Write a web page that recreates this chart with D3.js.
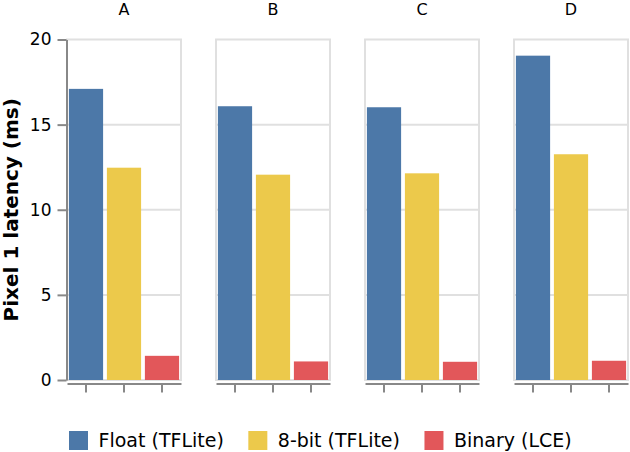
<!DOCTYPE html>
<html lang="en">
<head>
<meta charset="UTF-8">
<title>Pixel 1 latency</title>
<script src="https://d3js.org/d3.v7.min.js"></script>
<style>
  body { margin: 0; background: #fff; }
  text { font-family: "DejaVu Sans", sans-serif; fill: #000; }
  .grid line { stroke: #e0e0e0; stroke-width: 2; }
  .frame { fill: none; stroke: #e0e0e0; stroke-width: 2; }
  .axis path, .axis line { stroke: #888; stroke-width: 2; }
</style>
</head>
<body>
<script>
// data
var groups = ["A", "B", "C", "D"];
var series = ["Float (TFLite)", "8-bit (TFLite)", "Binary (LCE)"];
var floatVals = [17.1, 16.08, 16.02, 19.05];
var int8Vals = [12.47, 12.06, 12.14, 13.26];
var binaryVals = [1.42, 1.09, 1.07, 1.13];
var yTicks = [0, 5, 10, 15, 20];
var colors = ["#4c78a8", "#ecc94b", "#e2575a"];

var W = 630, H = 452;
var plotTop = 39.5, plotBottom = 380;

var svg = d3.select("body").append("svg")
  .attr("width", W)
  .attr("height", H);

var rows = [];
groups.forEach(function (g, i) {
  rows.push({group: g, s: series[0], v: floatVals[i]});
  rows.push({group: g, s: series[1], v: int8Vals[i]});
  rows.push({group: g, s: series[2], v: binaryVals[i]});
});

// scales
var fx = d3.scaleBand().domain(groups).range([67, 628]).paddingInner(0.235);
var x = d3.scaleBand().domain(series).range([0, fx.bandwidth()])
  .paddingInner(0.1).paddingOuter(0.05);
var y = d3.scaleLinear().domain([0, 20]).range([plotBottom, plotTop]);
var color = d3.scaleOrdinal().domain(series).range(colors);

var panel = svg.selectAll(".panel")
  .data(groups)
  .enter().append("g")
  .attr("class", "panel")
  .attr("transform", function (d) { return "translate(" + fx(d) + ",0)"; });

// gridlines
panel.append("g")
  .attr("class", "grid")
  .selectAll("line")
  .data(yTicks.slice(1, -1))
  .enter().append("line")
  .attr("x1", 0).attr("x2", fx.bandwidth())
  .attr("y1", function (d) { return y(d); })
  .attr("y2", function (d) { return y(d); });

panel.append("rect")
  .attr("class", "frame")
  .attr("x", 0).attr("y", plotTop)
  .attr("width", fx.bandwidth())
  .attr("height", plotBottom - plotTop);

// column titles
panel.append("text")
  .attr("x", fx.bandwidth() / 2)
  .attr("y", 14.5)
  .attr("text-anchor", "middle")
  .style("font-size", "16px")
  .text(function (d) { return d; });

// bars
panel.selectAll(".bar")
  .data(function (g) { return rows.filter(function (r) { return r.group === g; }); })
  .enter().append("rect")
  .attr("class", "bar")
  .attr("x", function (d) { return x(d.s); })
  .attr("width", x.bandwidth())
  .attr("y", function (d) { return y(d.v); })
  .attr("height", function (d) { return plotBottom - y(d.v); })
  .attr("fill", function (d) { return color(d.s); });

// x axis (no labels)
panel.append("g")
  .attr("class", "axis")
  .attr("transform", "translate(0," + (plotBottom + 3.5) + ")")
  .call(d3.axisBottom(x).tickSize(9).tickSizeOuter(0).tickFormat(""));

// y axis on first panel only
var yAxis = svg.append("g")
  .attr("class", "axis")
  .attr("transform", "translate(66.5,0)")
  .call(d3.axisLeft(y).tickValues(yTicks).tickSize(9).tickSizeOuter(0).tickPadding(6));
yAxis.selectAll("text").style("font-size", "17px").attr("fill", "#000");

svg.append("text")
  .attr("transform", "translate(17.5," + ((plotTop + plotBottom) / 2) + ") rotate(-90)")
  .attr("text-anchor", "middle")
  .style("font-size", "20px")
  .style("font-weight", "bold")
  .text("Pixel 1 latency (ms)");

// legend
var lx = 69;
series.forEach(function (s) {
  svg.append("rect")
    .attr("x", lx).attr("y", 431)
    .attr("width", 19).attr("height", 19)
    .attr("fill", color(s));
  var t = svg.append("text")
    .attr("x", lx + 29.5).attr("y", 446.7)
    .style("font-size", "19px")
    .text(s);
  lx += 29.5 + t.node().getComputedTextLength() + 24.5;
});
</script>
</body>
</html>
